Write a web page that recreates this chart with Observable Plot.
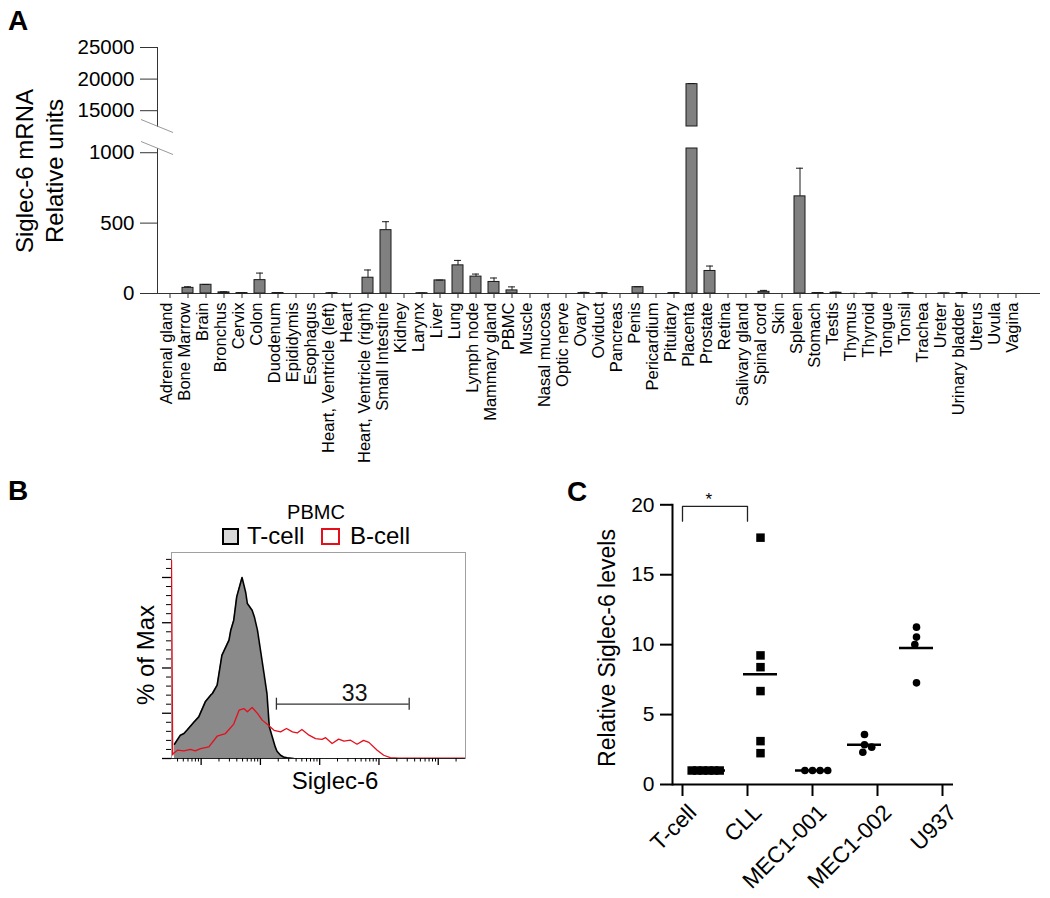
<!DOCTYPE html>
<html><head><meta charset="utf-8">
<script src="https://cdn.jsdelivr.net/npm/d3@7"></script>
<script src="https://cdn.jsdelivr.net/npm/@observablehq/plot@0.6"></script>
<style>
body{margin:0;background:#fff}
#wrap{position:relative;width:1050px;height:898px;font-family:"Liberation Sans",Arial,sans-serif;color:#000;overflow:hidden;background:#fff}
.t{position:absolute;white-space:nowrap;font-family:"Liberation Sans",Arial,sans-serif}
.box{position:absolute;box-sizing:border-box}
</style></head><body><div id="wrap"></div>
<script>
// ---------- Panel A data ----------
const tissues = ["Adrenal gland","Bone Marrow","Brain","Bronchus","Cervix","Colon","Duodenum","Epididymis","Esophagus","Heart, Ventricle (left)","Heart","Heart, Ventricle (right)","Small Intestine","Kidney","Larynx","Liver","Lung","Lymph node","Mammary gland","PBMC","Muscle","Nasal mucosa","Optic nerve","Ovary","Oviduct","Pancreas","Penis","Pericardium","Pituitary","Placenta","Prostate","Retina","Salivary gland","Spinal cord","Skin","Spleen","Stomach","Testis","Thymus","Thyroid","Tongue","Tonsil","Trachea","Ureter","Urinary bladder","Uterus","Uvula","Vagina"];
const expression = [0,40,62,8,3,95,3,0,0,2,0,112,450,0,2,93,200,120,82,22,0,0,0,3,2,0,45,0,3,19200,160,0,0,12,0,690,3,5,0,1,0,2,0,1,3,0,0,0];
const expressionErr = [0,8,2,4,2,50,2,0,0,3,0,55,60,0,1,2,35,18,28,25,0,0,0,5,1,0,3,0,3,100,35,0,0,10,0,200,2,4,1,1,0,3,0,1,3,0,0,0];
const yTicksLower = [0,500,1000];
const yTicksUpper = [15000,20000,25000];
const breakLow = 1030, breakHigh = 12500, yMaxA = 25000;

// ---------- Panel B data (log10 Siglec-6 intensity, % of max) ----------
const tcellLog = [0.55,0.65,0.71,0.76,0.88,0.96,1.07,1.16,1.19,1.27,1.35,1.47,1.50,1.55,1.60,1.69,1.75,1.78,1.86,1.90,1.95,2.06,2.11,2.15,2.25,2.28,2.34,2.39,2.45,2.56];
const tcellPct = [7.9,12.9,13.8,15.6,20.2,23,31.3,35,35.9,40.5,57,65.4,70.9,76.4,89.3,100,92,85.6,81.9,78,70.9,47,36,17.5,6.4,4,1.8,0.8,0.4,0];
const bcellLog = [0.50,0.52,0.53,0.60,0.71,0.82,0.90,0.99,1.13,1.27,1.41,1.55,1.64,1.72,1.78,1.86,1.95,2.03,2.11,2.23,2.34,2.44,2.54,2.62,2.70,2.82,2.93,3.04,3.10,3.21,3.32,3.41,3.52,3.63,3.74,3.83,3.97,4.08,4.19,4.33,5.46];
const bcellPct = [109.6,2.0,2.8,4.6,4.2,5,4.2,5.5,6.4,12.3,13.8,19,26.7,27.6,25.8,28.2,24.9,21.2,19,15.6,14.7,16.6,14.7,14.1,16,12.9,11,10.6,11.5,8.3,10.7,9.6,10.1,7.9,10,8.9,4.6,1.8,0.5,0.2,0.2];
const gateStartLog = 2.27, gateEndLog = 4.51, gateLevel = 30, gateLabel = "33", gateLabelLog = 3.59;
const yTicksB = [0,25,50,75,100];
const yMinorB = [5,10,15,20,30,35,40,45,55,60,65,70,80,85,90,95,105,110];

// ---------- Panel C data ----------
const cGroups = ["T-cell","CLL","MEC1-001","MEC1-002","U937"];
const tcellLevels = [1,1,1,1,1,1];
const cllLevels = [17.65,9.23,8.39,6.68,3.10,2.24];
const mec001Levels = [1,1,1,1];
const mec002Levels = [3.58,2.84,2.31,2.67];
const u937Levels = [11.25,10.54,10.01,7.27];
const yTicksC = [0,5,10,15,20];
const sigLow = 18.83, sigHigh = 19.89;

const wrap = document.getElementById("wrap");
const baseStyle = {position:"absolute", left:"0px", top:"0px", background:"transparent", overflow:"visible", fontFamily:"'Liberation Sans', Arial, sans-serif", maxWidth:"none"};
const noLabel = () => "";

// ---------- Panel A (broken axis: two stacked plots sharing x) ----------
const aData = tissues.map((t,i)=>({tissue:t, value:expression[i], err:expressionErr[i]}));
const aErrLower = aData.filter(d=>d.err>0 && d.value<breakLow);
const aErrUpper = aData.filter(d=>d.err>0 && d.value>breakHigh);
const aUpper = aData.filter(d=>d.value>breakHigh);
const xA = {domain: tissues, range:[159,1025], paddingInner:0.4, paddingOuter:0.2};
const barStyle = {fill:"#808080", stroke:"#1a1a1a", strokeWidth:1};
function breakSlash(at) {
  return (index, scales, values, dimensions) => {
    const y = scales.y(at), x0 = dimensions.marginLeft;
    return d3.create("svg:line").attr("stroke","#9a9a9a").attr("stroke-width",1)
      .attr("x1",x0-16).attr("y1",y-6.5).attr("x2",x0+16).attr("y2",y+6.5).node();
  };
}
const yLabelsA = (ticks) => Plot.text(ticks, {y:d=>d, text:d=>String(d), frameAnchor:"left", textAnchor:"end", dx:-23, fontSize:20.5, fill:"#000"});
const plotALower = Plot.plot({
  width:1050, height:898, marginLeft:157, marginRight:10, marginTop:148, marginBottom:605,
  style: baseStyle,
  x: xA,
  y: {domain:[0,breakLow]},
  marks: [
    Plot.ruleY([0], {stroke:"#333"}),
    Plot.frame({anchor:"left", stroke:"#333"}),
    Plot.barY(aData, {x:"tissue", y1:0, y2:d=>Math.min(d.value, breakLow), ...barStyle}),
    Plot.ruleX(aErrLower, {x:"tissue", y1:"value", y2:d=>d.value+d.err, stroke:"#1a1a1a"}),
    Plot.tickY(aErrLower, {x:"tissue", y:d=>d.value+d.err, insetLeft:2, insetRight:2, stroke:"#1a1a1a"}),
    Plot.axisX({tickSize:5, tickFormat:noLabel, label:null, stroke:"#333"}),
    Plot.text(tissues, {x:d=>d, text:d=>d, frameAnchor:"bottom", rotate:-90, textAnchor:"end", dx:2, dy:9, fontSize:16.5, fill:"#000"}),
    Plot.axisY({ticks:yTicksLower, tickFormat:noLabel, tickSize:17, label:null, stroke:"#333"}),
    yLabelsA(yTicksLower),
    breakSlash(breakLow)
  ]
});
wrap.appendChild(plotALower);
const plotAUpper = Plot.plot({
  width:1050, height:898, marginLeft:157, marginRight:10, marginTop:47, marginBottom:772,
  style: baseStyle,
  x: {...xA, axis:null},
  y: {domain:[breakHigh, yMaxA]},
  marks: [
    Plot.frame({anchor:"left", stroke:"#333"}),
    Plot.barY(aUpper, {x:"tissue", y1:breakHigh, y2:"value", ...barStyle}),
    Plot.ruleX(aErrUpper, {x:"tissue", y1:"value", y2:d=>d.value+d.err, stroke:"#1a1a1a"}),
    Plot.tickY(aErrUpper, {x:"tissue", y:d=>d.value+d.err, insetLeft:2, insetRight:2, stroke:"#1a1a1a"}),
    Plot.axisY({ticks:yTicksUpper, tickFormat:noLabel, tickSize:17, label:null, stroke:"#333"}),
    yLabelsA(yTicksUpper),
    breakSlash(breakHigh)
  ]
});
wrap.appendChild(plotAUpper);

// ---------- Panel B ----------
const tData = tcellLog.map((l,i)=>({x:10**l, y:tcellPct[i]}));
const bData = bcellLog.map((l,i)=>({x:10**l, y:bcellPct[i]}));
const xDomainB = [10**0.5, 10**5.46];
const allLogTicks = d3.scaleLog().domain(xDomainB).ticks();
const isDecade = t => Math.abs(Math.log10(t) - Math.round(Math.log10(t))) < 1e-9;
const majorX = allLogTicks.filter(isDecade);
const minorX = allLogTicks.filter(t=>!isDecade(t));
const gate = {start:10**gateStartLog, end:10**gateEndLog, level:gateLevel, label:gateLabel, at:10**gateLabelLog};
const plotB = Plot.plot({
  width:1050, height:898, marginLeft:171, marginRight:585, marginTop:552, marginBottom:140,
  style: baseStyle,
  x: {type:"log", domain:xDomainB},
  y: {domain:[0,113.8]},
  marks: [
    Plot.areaY(tData, {x:"x", y:"y", fill:"#8a8a8a", clip:true}),
    Plot.lineY(tData, {x:"x", y:"y", stroke:"#000", strokeWidth:1.6, clip:true}),
    Plot.frame({stroke:"#a0a0a0"}),
    Plot.ruleY([0], {stroke:"#222"}),
    Plot.lineY(bData, {x:"x", y:"y", stroke:"#e3101c", strokeWidth:1.3, clip:true}),
    Plot.ruleY([gate], {x1:"start", x2:"end", y:"level", stroke:"#333", strokeWidth:1.3}),
    Plot.ruleX([gate.start, gate.end], {x:d=>d, y1:gate.level-3.3, y2:gate.level+3.3, stroke:"#333", strokeWidth:1.3}),
    Plot.text([gate], {x:"at", y:"level", text:"label", dy:-3, lineAnchor:"bottom", fontSize:23, fill:"#111"}),
    Plot.axisY({ticks:yTicksB, tickSize:9, tickFormat:noLabel, label:null, strokeWidth:1.3}),
    Plot.axisY({ticks:yMinorB, tickSize:5, tickFormat:noLabel, label:null}),
    Plot.axisX({ticks:majorX, tickSize:7, tickFormat:noLabel, label:null, strokeWidth:1.3}),
    Plot.axisX({ticks:minorX, tickSize:3.5, tickFormat:noLabel, label:null})
  ]
});
wrap.appendChild(plotB);

// ---------- Panel C ----------
const cPoints = [
  ...tcellLevels.map(v=>({group:"T-cell", value:v, shape:"square"})),
  ...cllLevels.map(v=>({group:"CLL", value:v, shape:"square"})),
  ...mec001Levels.map(v=>({group:"MEC1-001", value:v, shape:"circle"})),
  ...mec002Levels.map(v=>({group:"MEC1-002", value:v, shape:"circle"})),
  ...u937Levels.map(v=>({group:"U937", value:v, shape:"circle"}))
];
const bracket = [{g:"T-cell",v:sigLow},{g:"T-cell",v:sigHigh},{g:"CLL",v:sigHigh},{g:"CLL",v:sigLow}];
const plotCAxes = Plot.plot({
  width:1050, height:898, marginLeft:672, marginRight:97, marginTop:504.3, marginBottom:114,
  style: baseStyle,
  x: {domain:cGroups, range:[680.4,943.6], padding:0},
  y: {domain:[0,20]},
  marks: [
    Plot.ruleY([0], {stroke:"#000", strokeWidth:2}),
    Plot.frame({anchor:"left", stroke:"#000", strokeWidth:2}),
    Plot.axisY({ticks:yTicksC, tickSize:12, tickFormat:noLabel, strokeWidth:2, label:null}),
    Plot.text(yTicksC, {y:d=>d, text:d=>String(d), frameAnchor:"left", textAnchor:"end", dx:-18, fontSize:21, fill:"#000"}),
    Plot.axisX({tickSize:12, tickFormat:noLabel, strokeWidth:2, label:null}),
    Plot.text(cGroups, {x:d=>d, text:d=>d, frameAnchor:"bottom", rotate:-45, textAnchor:"end", lineAnchor:"top", dx:4, dy:18, fontSize:22.5, fill:"#000"}),
    Plot.line(bracket, {x:"g", y:"v", stroke:"#222", strokeWidth:1.3}),
    Plot.text(["*"], {x:()=>"T-cell", y:()=>sigHigh, dx:26.3, dy:-7, fontSize:17, fill:"#000"})
  ]
});
wrap.appendChild(plotCAxes);
const plotCDots = Plot.plot({
  width:1050, height:898, marginLeft:680.4, marginRight:106.4, marginTop:504.3, marginBottom:114,
  style: baseStyle,
  fx: {domain:cGroups, padding:0, axis:null, label:null},
  y: {domain:[0,20], axis:null},
  marks: [
    Plot.dot(cPoints.filter(d=>d.shape==="square"), Plot.dodgeX({anchor:"middle", padding:-4}, {fx:"group", y:"value", symbol:"square", r:4.8, fill:"#000", stroke:"none"})),
    Plot.dot(cPoints.filter(d=>d.shape==="circle"), Plot.dodgeX({anchor:"middle", padding:0}, {fx:"group", y:"value", symbol:"circle", r:3.8, fill:"#000", stroke:"none"})),
    Plot.tickY(cPoints, Plot.groupZ({y:"mean"}, {fx:"group", y:"value", insetLeft:9, insetRight:9, stroke:"#000", strokeWidth:2.5}))
  ]
});
wrap.appendChild(plotCDots);

// ---------- Text annotations ----------
function addText(txt, left, top, size, opts={}) {
  const d = document.createElement("div");
  d.className = "t";
  d.textContent = txt;
  Object.assign(d.style, {left:left+"px", top:top+"px", fontSize:size+"px", lineHeight:size+"px"}, opts);
  wrap.appendChild(d);
  return d;
}
function addCentered(txt, cx, top, size, opts={}) {
  return addText(txt, cx-150, top, size, Object.assign({width:"300px", textAlign:"center"}, opts));
}
function addRotated(lines, cx, cy, size, lineH) {
  const w = 320, h = lines.length*lineH;
  const d = document.createElement("div");
  d.className = "t";
  Object.assign(d.style, {left:(cx-w/2)+"px", top:(cy-h/2)+"px", width:w+"px", height:h+"px", textAlign:"center", fontSize:size+"px", lineHeight:lineH+"px", transform:"rotate(-90deg)", transformOrigin:"50% 50%"});
  d.innerHTML = lines.map(l=>`<div>${l}</div>`).join("");
  wrap.appendChild(d);
}
addText("A", 8, 6.5, 28, {fontWeight:"bold"});
addText("B", 8, 477, 28, {fontWeight:"bold"});
addText("C", 567, 478, 28, {fontWeight:"bold"});
addRotated(["Siglec-6 mRNA","Relative units"], 40, 171, 24, 30);
addCentered("PBMC", 316, 502, 20);
// legend B
const box1 = document.createElement("div"); box1.className="box";
Object.assign(box1.style,{left:"222px", top:"528px", width:"17px", height:"17px", background:"#d9d9d9", border:"2px solid #000"});
wrap.appendChild(box1);
addText("T-cell", 247, 524, 24);
const box2 = document.createElement("div"); box2.className="box";
Object.assign(box2.style,{left:"321px", top:"528px", width:"19px", height:"17px", background:"#fff", border:"2px solid #e3101c"});
wrap.appendChild(box2);
addText("B-cell", 350, 524, 24);
addRotated(["% of Max"], 146, 655, 24, 26);
addCentered("Siglec-6", 335, 769, 24);
addRotated(["Relative Siglec-6 levels"], 607, 648, 23, 26);
</script></body></html>
